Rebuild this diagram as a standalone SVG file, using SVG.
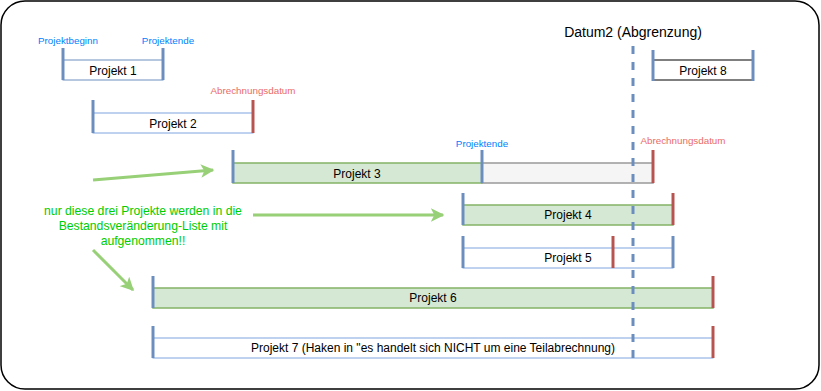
<svg xmlns="http://www.w3.org/2000/svg" width="821" height="391" viewBox="0 0 821 391">
<style>
text{font-family:"Liberation Sans",Arial,sans-serif;}
.lbl{font-size:12px;fill:#000;text-anchor:middle;}
.sm{font-size:9.8px;}
.blue{fill:#007FFF;}
.red{fill:#EA6B66;}
.bb{stroke:#6C8EBF;stroke-width:3;}
.rb{stroke:#B85450;stroke-width:3;}
.wbox{fill:#fff;stroke:#7EA6E0;stroke-width:1;}
.gbox{fill:#D5E8D4;stroke:#82B366;stroke-width:1.5;}
.grey{fill:#F5F5F5;stroke:#999;stroke-width:1.5;}
.arr{stroke:#97D077;stroke-width:3;fill:none;}
</style>
<defs>
<marker id="ah" viewBox="0 0 10 10" refX="9" refY="5" markerWidth="4.5" markerHeight="4.5" orient="auto" markerUnits="strokeWidth">
<path d="M0,0 L10,5 L0,10 L2.5,5 Z" fill="#97D077"/>
</marker>
</defs>
<rect x="1" y="1" width="818" height="388" rx="24" ry="24" fill="#fff" stroke="#000" stroke-width="1.5"/>
<g id="datum2">
<text x="633" y="37" style="font-size:14px" text-anchor="middle" fill="#000">Datum2 (Abgrenzung)</text>
</g>
<g id="p1">
<rect x="63" y="60" width="100" height="20" fill="#fff" stroke="#6C8EBF"/>
<line class="bb" x1="63" y1="48" x2="63" y2="80"/>
<line class="bb" x1="163" y1="48" x2="163" y2="80"/>
<text class="lbl" x="113" y="75">Projekt 1</text>
<text class="sm blue" x="68" y="44" text-anchor="middle">Projektbeginn</text>
<text class="sm blue" x="168" y="44" text-anchor="middle">Projektende</text>
</g>
<g id="p2">
<rect class="wbox" x="93" y="113" width="160" height="20"/>
<line class="bb" x1="93" y1="100" x2="93" y2="133"/>
<line class="rb" x1="253" y1="100" x2="253" y2="133"/>
<text class="lbl" x="173" y="128">Projekt 2</text>
<text class="sm red" x="253" y="94" text-anchor="middle">Abrechnungsdatum</text>
</g>
<g id="p3">
<rect class="gbox" x="233" y="163" width="249" height="20"/>
<rect class="grey" x="482" y="163" width="171" height="20"/>
<line class="bb" x1="233" y1="150" x2="233" y2="183"/>
<line class="bb" x1="482" y1="150" x2="482" y2="183"/>
<line class="rb" x1="653" y1="150" x2="653" y2="183"/>
<text class="lbl" x="357" y="178">Projekt 3</text>
<text class="sm blue" x="482" y="147" text-anchor="middle">Projektende</text>
<text class="sm red" x="683" y="144" text-anchor="middle">Abrechnungsdatum</text>
</g>
<g id="p4">
<rect class="gbox" x="463" y="205" width="210" height="20"/>
<line class="bb" x1="463" y1="193" x2="463" y2="225"/>
<line class="rb" x1="673" y1="193" x2="673" y2="225"/>
<text class="lbl" x="568" y="219">Projekt 4</text>
</g>
<g id="p5">
<rect class="wbox" x="463" y="248" width="210" height="20"/>
<line class="bb" x1="463" y1="236" x2="463" y2="268"/>
<line class="rb" x1="613" y1="236" x2="613" y2="268"/>
<line class="bb" x1="673" y1="236" x2="673" y2="268"/>
<text class="lbl" x="568" y="262">Projekt 5</text>
</g>
<g id="p6">
<rect class="gbox" x="153" y="288" width="560" height="20"/>
<line class="bb" x1="153" y1="276" x2="153" y2="308"/>
<line class="rb" x1="713" y1="276" x2="713" y2="308"/>
<text class="lbl" x="433" y="302">Projekt 6</text>
</g>
<g id="p7">
<rect class="wbox" x="153" y="338" width="560" height="20"/>
<line class="bb" x1="153" y1="326" x2="153" y2="358"/>
<line class="rb" x1="713" y1="326" x2="713" y2="358"/>
<text class="lbl" x="433" y="352">Projekt 7 (Haken in "es handelt sich NICHT um eine Teilabrechnung)</text>
</g>
<g id="p8">
<rect x="653" y="60" width="100" height="20" fill="#fff" stroke="#000"/>
<line class="bb" x1="653" y1="50" x2="653" y2="81"/>
<line class="bb" x1="753" y1="50" x2="753" y2="81"/>
<text class="lbl" x="703" y="75">Projekt 8</text>
</g>
<g id="note">
<text x="143" y="215" text-anchor="middle" style="font-size:12.2px" fill="#00CC00">nur diese drei Projekte werden in die</text>
<text x="143" y="230" text-anchor="middle" style="font-size:12.2px" fill="#00CC00">Bestandsveränderung-Liste mit</text>
<text x="143" y="245" text-anchor="middle" style="font-size:12.2px" fill="#00CC00">aufgenommen!!</text>
</g>
<g id="connectors">
<line x1="633" y1="46" x2="633" y2="362" stroke="#6C8EBF" stroke-width="3" stroke-dasharray="8 8"/>
<line class="arr" x1="93" y1="180" x2="213" y2="170" marker-end="url(#ah)"/>
<line class="arr" x1="253" y1="215" x2="443" y2="215" marker-end="url(#ah)"/>
<line class="arr" x1="93" y1="250" x2="133" y2="290" marker-end="url(#ah)"/>
</g>
</svg>
